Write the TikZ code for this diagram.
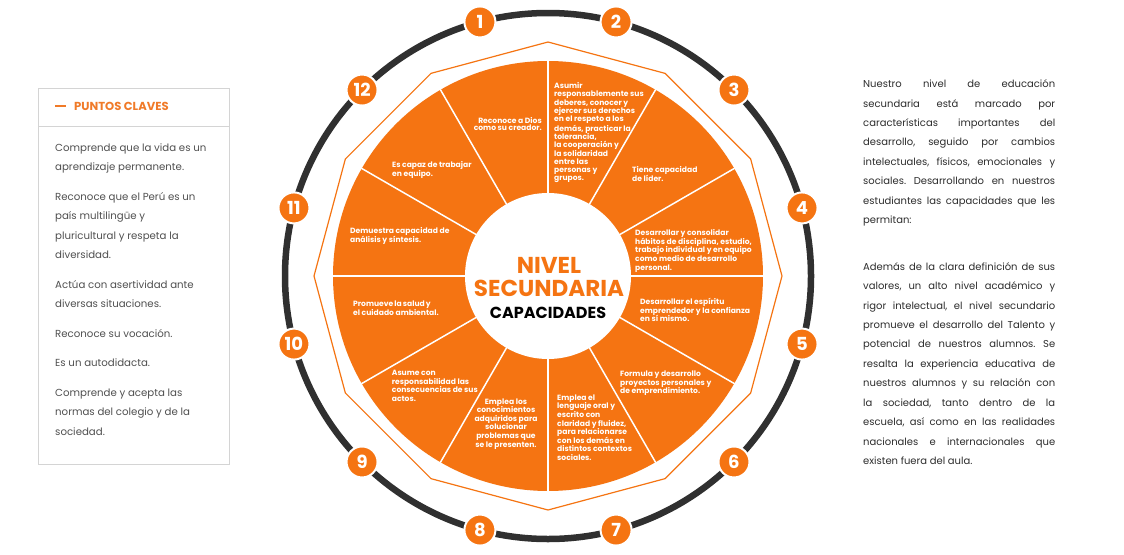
\documentclass[tikz,border=0pt]{standalone}
\usepackage{fontspec}
\setmainfont{Poppins}
\frenchspacing
\definecolor{wheelorange}{RGB}{245,116,18}
\definecolor{headorange}{RGB}{240,122,40}
\definecolor{ringgray}{RGB}{48,48,48}
\definecolor{bodygray}{RGB}{80,80,80}
\definecolor{textdark}{RGB}{45,45,45}
\definecolor{boxline}{RGB}{212,212,212}
\newlength\linewb
\begin{document}
\begin{tikzpicture}[x=1pt,y=-1pt,
  numdot/.style={circle, fill=wheelorange, draw=white, line width=2pt,
    minimum size=31pt, inner sep=0pt, text=white,
    font=\fontsize{18}{18}\selectfont\bfseries},
  captext/.style={text=white, inner sep=0pt, align=left, anchor=north west,
    font=\fontsize{7.6}{#1}\selectfont\bfseries},
  captext/.default=8.7,
  bodytext/.style={inner sep=0pt, align=left, anchor=north west,
    font=\fontsize{10.2}{19.5}\selectfont},
  divider/.style={white, line width=1.5pt}]
\useasboundingbox (0,0) rectangle (1124,554);
\fill[white] (0,0) rectangle (1124,554);

% ---------- key points box ----------
\draw[boxline, line width=0.8pt] (38.5,88.5) rectangle (229.5,464.5);
\draw[boxline, line width=0.8pt] (38.5,126.5) -- (229.5,126.5);
\coordinate (dashA) at (55,106);
\coordinate (dashB) at (66,106);
\draw[headorange, line width=2.2pt] (dashA) -- (dashB);
\node[anchor=west, inner sep=0pt, text=headorange,
  font=\fontsize{11.6}{11.6}\selectfont\bfseries] (keyhead) at (74,106.5) {PUNTOS CLAVES};
\node[bodytext, text=bodygray] (keylist) at (55,143.5) {%
Comprende que la vida es un\\
aprendizaje permanente.\\[10pt]
Reconoce que el Perú es un\\
país multilingüe y\\
pluricultural y respeta la\\
diversidad.\\[10pt]
Actúa con asertividad ante\\
diversas situaciones.\\[10pt]
Reconoce su vocación.\\[10pt]
Es un autodidacta.\\[10pt]
Comprende y acepta las\\
normas del colegio y de la\\
sociedad.};

% ---------- description on the right ----------
\node[bodytext, text=textdark, font=\fontsize{10}{19.45}\selectfont] (about) at (863,79.5) {%
\makebox[192pt][s]{Nuestro nivel de educación}\\
\makebox[192pt][s]{secundaria está marcado por}\\
\makebox[192pt][s]{características importantes del}\\
\makebox[192pt][s]{desarrollo, seguido por cambios}\\
\makebox[192pt][s]{intelectuales, físicos, emocionales y}\\
\makebox[192pt][s]{sociales. Desarrollando en nuestros}\\
\makebox[192pt][s]{estudiantes las capacidades que les}\\
permitan:\\[27pt]
\makebox[192pt][s]{Además de la clara definición de sus}\\
\makebox[192pt][s]{valores, un alto nivel académico y}\\
\makebox[192pt][s]{rigor intelectual, el nivel secundario}\\
\makebox[192pt][s]{promueve el desarrollo del Talento y}\\
\makebox[192pt][s]{potencial de nuestros alumnos. Se}\\
\makebox[192pt][s]{resalta la experiencia educativa de}\\
\makebox[192pt][s]{nuestros alumnos y su relación con}\\
\makebox[192pt][s]{la sociedad, tanto dentro de la}\\
\makebox[192pt][s]{escuela, así como en las realidades}\\
\makebox[192pt][s]{nacionales e internacionales que}\\
existen fuera del aula.};

% ---------- the wheel ----------
\begin{scope}[shift={(548,276)}, y=1pt]
  \draw[ringgray, line width=6.5pt] (0,0) circle[radius=263];
  \draw[wheelorange, line width=1.2pt] (0:234)
    \foreach \a in {30,60,...,330}{ -- (\a:234)} -- cycle;
  \fill[wheelorange] (0,0) circle[radius=215];
  \foreach \a in {0,30,...,330} \draw[divider] (\a:80) -- (\a:215.5);
  \fill[white] (0,0) circle[radius=83];
  \foreach \k in {1,...,12}
    \node[numdot] (num\k) at ({105-30*(\k-1)}:263) {\k};
\end{scope}

% centre titles
\node[inner sep=0pt, text=wheelorange, font=\fontsize{23}{23}\selectfont\bfseries]
  (nivel) at (549,265) {NIVEL};
\node[inner sep=0pt, text=wheelorange, font=\fontsize{23}{23}\selectfont\bfseries]
  (secundaria) at (549,288) {SECUNDARIA};
\node[inner sep=0pt, text=black, font=\fontsize{16}{16}\selectfont\bfseries]
  (capacidades) at (548,313) {CAPACIDADES};

% ---------- sector texts ----------
\node[captext=7.6, align=right, anchor=north east] (cap1) at (542,117) {%
Reconoce a Dios\\como su creador.};
\node[captext=8.3] (cap2) at (554,82.3) {%
Asumir\\
responsablemente sus\\
deberes, conocer y\\
ejercer sus derechos\\
en el respeto a los\\
demás, practicar la\\
tolerancia,\\
la cooperación y\\
la solidaridad\\
entre las\\
personas y\\
grupos.};
\node[captext] (cap3) at (632,166.3) {Tiene capacidad\\de líder.};
\node[captext] (cap4) at (635,229.3) {%
Desarrollar y consolidar\\
hábitos de disciplina, estudio,\\
trabajo individual y en equipo\\
como medio de desarrollo\\
personal.};
\node[captext] (cap5) at (640,297.8) {%
Desarrollar el espíritu\\
emprendedor y la confianza\\
en sí mismo.};
\node[captext] (cap6) at (620,370.5) {%
Formula y desarrollo\\
proyectos personales y\\
de emprendimiento.};
\node[captext=8.6] (cap7) at (557,394.5) {%
Emplea el\\
lenguaje oral y\\
escrito con\\
claridad y fluidez,\\
para relacionarse\\
con los demás en\\
distintos contextos\\
sociales.};
\node[captext=8.6, align=center, anchor=north] (cap8) at (506,398.2) {%
Emplea los\\
conocimientos\\
adquiridos para\\
solucionar\\
problemas que\\
se le presenten.};
\node[captext] (cap9) at (391.7,369.8) {%
Asume con\\
responsabilidad las\\
consecuencias de sus\\
actos.};
\settowidth{\linewb}{\fontsize{7.6}{7.6}\selectfont\bfseries el cuidado ambiental.}
\node[captext] (cap10) at (353,300.5) {%
\makebox[1.04\linewb][s]{Promueve la salud y}\\el cuidado ambiental.};
\node[captext=9.3] (cap11) at (350,227.2) {%
Demuestra capacidad de\\
análisis y síntesis.};
\node[captext=9] (cap12) at (392,161.2) {%
Es capaz de trabajar\\
en equipo.};
\end{tikzpicture}
\end{document}
